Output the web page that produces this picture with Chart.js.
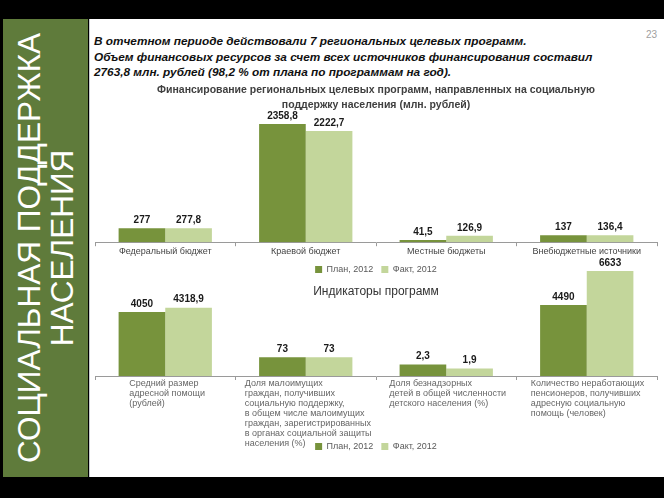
<!DOCTYPE html>
<html>
<head>
<meta charset="utf-8">
<script src="https://cdn.jsdelivr.net/npm/chart.js@4.4.1/dist/chart.umd.min.js"></script>
<style>
  html, body { margin: 0; padding: 0; width: 664px; height: 498px; overflow: hidden; background: #000; font-family: "Liberation Sans", Arial, sans-serif; }
  #side { position: absolute; left: 3px; top: 19px; width: 85px; height: 458px; background: #5f7b3b; }
  #sideText { position: absolute; left: 43px; top: 229px; transform: translate(-50%, -50%) rotate(-90deg); color: #fff; font-size: 31.5px; line-height: 33px; text-align: center; white-space: nowrap; }
  #page { position: absolute; left: 89px; top: 19px; width: 575px; height: 458px; background: #fff; border-left: 1px solid #c8ccd0; box-sizing: border-box; }
  #intro { position: absolute; left: 94px; top: 34px; font: bold italic 11.8px "Liberation Sans", Arial, sans-serif; line-height: 15.5px; color: #111; white-space: nowrap; }
  #num { position: absolute; left: 646px; top: 29px; font-size: 10px; color: #a0a0a0; }
  #finWrap { position: absolute; left: 90px; top: 80px; width: 574px; height: 204px; }
  #indWrap { position: absolute; left: 90px; top: 255px; width: 574px; height: 206px; }
</style>
</head>
<body>
<div id="side"><div id="sideText">СОЦИАЛЬНАЯ ПОДДЕРЖКА<br>НАСЕЛЕНИЯ</div></div>
<div id="page"></div>
<div id="intro">В отчетном периоде действовали 7 региональных целевых программ.<br>Объем финансовых ресурсов за счет всех источников финансирования составил<br>2763,8 млн. рублей (98,2 % от плана по программам на год).</div>
<div id="num">23</div>
<div id="finWrap"><canvas id="finChart"></canvas></div>
<div id="indWrap"><canvas id="indChart"></canvas></div>

<script>
  // данные
  const seriesNames = ['План, 2012', 'Факт, 2012'];

  const finCategories = ['Федеральный бюджет', 'Краевой бюджет', 'Местные бюджеты', 'Внебюджетные источники'];
  const finPlan = [277, 2358.8, 41.5, 137];
  const finFact = [277.8, 2222.7, 126.9, 136.4];

  const indCategories = [
    ['Средний размер', 'адресной помощи', '(рублей)'],
    ['Доля малоимущих', 'граждан, получивших', 'социальную поддержку,', 'в общем числе малоимущих', 'граждан, зарегистрированных', 'в органах социальной защиты', 'населения (%)'],
    ['Доля безнадзорных', 'детей в общей численности', 'детского населения (%)'],
    ['Количество неработающих', 'пенсионеров, получивших', 'адресную социальную', 'помощь (человек)']
  ];
  const indPlan = [4050, 73, 2.3, 4490];
  const indFact = [4318.9, 73, 1.9, 6633];
  // высота столбиков как на слайде (у каждого индикатора своя шкала)
  const indPlanBar = [4050, 1180, 730, 4490];
  const indFactBar = [4318.9, 1180, 470, 6633];

  const planColor = '#77933c';
  const factColor = '#c3d69b';
  const axisColor = '#9a9a9a';

  // подписи значений над столбиками
  const valueLabels = {
    id: 'valueLabels',
    afterDatasetsDraw(chart) {
      const ctx = chart.ctx;
      ctx.save();
      ctx.font = 'bold 10px "Liberation Sans", Arial, sans-serif';
      ctx.fillStyle = '#1a1a1a';
      ctx.textAlign = 'center';
      ctx.textBaseline = 'bottom';
      chart.data.datasets.forEach((ds, di) => {
        const shown = ds.shown || ds.data;
        chart.getDatasetMeta(di).data.forEach((bar, i) => {
          ctx.fillText(String(shown[i]).replace('.', ','), bar.x, bar.y - 3);
        });
      });
      ctx.restore();
    }
  };

  // подписи категорий второй диаграммы, выровненные по левому краю
  const labelShift = [-36, -61, -57, -56];
  const leftLabels = {
    id: 'leftLabels',
    afterDraw(chart) {
      const x = chart.scales.x;
      const ctx = chart.ctx;
      ctx.save();
      ctx.font = '9px "Liberation Sans", Arial, sans-serif';
      ctx.fillStyle = '#666';
      ctx.textAlign = 'left';
      ctx.textBaseline = 'middle';
      chart.data.labels.forEach((lines, i) => {
        const left = x.getPixelForValue(i) + labelShift[i];
        lines.forEach((t, k) => ctx.fillText(t, left, x.top + 8 + k * 10));
      });
      ctx.restore();
    }
  };

  const legendOpts = {
    position: 'bottom',
    labels: {
      boxWidth: 7,
      boxHeight: 7,
      padding: 8,
      color: '#595959',
      font: { size: 9, family: '"Liberation Sans", Arial, sans-serif' }
    }
  };

  // Финансирование
  new Chart(document.getElementById('finChart'), {
    type: 'bar',
    data: {
      labels: finCategories,
      datasets: [
        { label: seriesNames[0], data: finPlan, backgroundColor: planColor },
        { label: seriesNames[1], data: finFact, backgroundColor: factColor }
      ]
    },
    options: {
      responsive: true,
      maintainAspectRatio: false,
      animation: false,
      categoryPercentage: 0.664,
      barPercentage: 1,
      layout: { padding: { left: 5, right: 7 } },
      plugins: {
        title: {
          display: true,
          text: ['Финансирование региональных целевых программ, направленных на социальную', 'поддержку населения (млн. рублей)'],
          color: '#404040',
          font: { size: 10.5, weight: 'bold', family: '"Liberation Sans", Arial, sans-serif', lineHeight: 1.43 },
          padding: { top: 3, bottom: 4 }
        },
        legend: legendOpts,
        tooltip: { enabled: false }
      },
      scales: {
        x: {
          border: { color: axisColor },
          grid: { offset: true, drawOnChartArea: false, tickLength: 4, color: axisColor },
          ticks: { color: '#444', padding: 0, font: { size: 9, family: '"Liberation Sans", Arial, sans-serif' } }
        },
        y: { display: false, min: 0, max: 2500 }
      }
    },
    plugins: [valueLabels]
  });

  // Индикаторы программ
  new Chart(document.getElementById('indChart'), {
    type: 'bar',
    data: {
      labels: indCategories,
      datasets: [
        { label: seriesNames[0], data: indPlanBar, shown: indPlan, backgroundColor: planColor, clip: false },
        { label: seriesNames[1], data: indFactBar, shown: indFact, backgroundColor: factColor, clip: false }
      ]
    },
    options: {
      responsive: true,
      maintainAspectRatio: false,
      animation: false,
      categoryPercentage: 0.664,
      barPercentage: 1,
      layout: { padding: { left: 5, right: 7 } },
      plugins: {
        title: {
          display: true,
          text: 'Индикаторы программ',
          color: '#333',
          font: { size: 12, weight: 'normal', family: '"Liberation Sans", Arial, sans-serif', lineHeight: 1.2 },
          padding: { top: 29, bottom: 4 }
        },
        legend: legendOpts,
        tooltip: { enabled: false }
      },
      scales: {
        x: {
          border: { color: axisColor },
          grid: { offset: true, drawOnChartArea: false, tickLength: 4, color: axisColor },
          ticks: { display: false },
          afterFit(scale) { scale.height = 58; }
        },
        y: { display: false, min: 0, max: 4650 }
      }
    },
    plugins: [valueLabels, leftLabels]
  });
</script>
</body>
</html>
